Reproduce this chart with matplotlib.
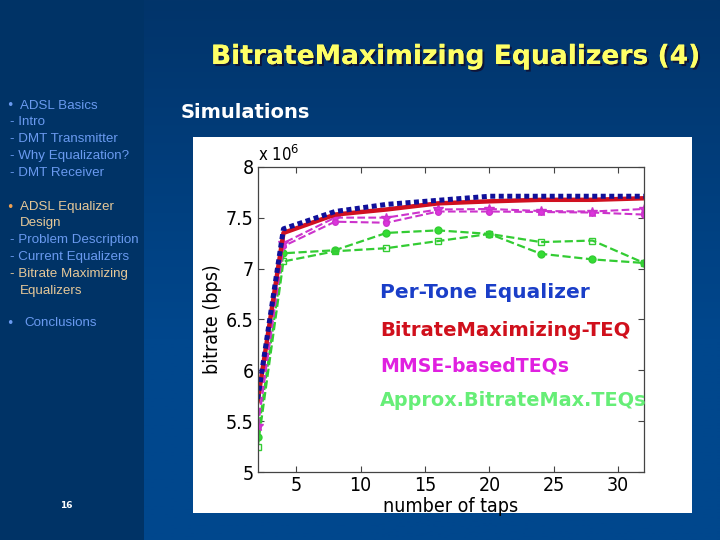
import numpy as np
import matplotlib
matplotlib.use("Agg")
import matplotlib.pyplot as plt
import matplotlib.patheffects as pe

# ---------------- data ----------------
taps = [2, 4, 8, 12, 16, 20, 24, 28, 32]
per_tone = [5.72, 7.39, 7.56, 7.63, 7.67, 7.71, 7.71, 7.71, 7.71]
bitrate_max_teq = [5.70, 7.35, 7.53, 7.58, 7.64, 7.66, 7.675, 7.675, 7.69]
mmse_a = [5.45, 7.25, 7.50, 7.50, 7.58, 7.585, 7.565, 7.56, 7.585]
mmse_b = [5.45, 7.22, 7.46, 7.45, 7.56, 7.56, 7.555, 7.55, 7.53]
approx_a = [5.35, 7.15, 7.18, 7.35, 7.375, 7.34, 7.145, 7.09, 7.055]
approx_b = [5.25, 7.07, 7.17, 7.20, 7.27, 7.34, 7.26, 7.275, 7.055]

yticks = [5, 5.5, 6, 6.5, 7, 7.5, 8]
ytick_labels = ["5", "5.5", "6", "6.5", "7", "7.5", "8"]
xticks = [5, 10, 15, 20, 25, 30]

legend_labels = ["Per-Tone Equalizer", "BitrateMaximizing-TEQ",
                 "MMSE-basedTEQs", "Approx.BitrateMax.TEQs"]

W, H = 720, 540
fig = plt.figure(figsize=(W / 100, H / 100), dpi=100)


def fx(x):
    return x / W


def fy(y):
    return 1 - y / H


# ---------------- background ----------------
bg = fig.add_axes([0, 0, 1, 1])
bg.set_xlim(0, W)
bg.set_ylim(H, 0)
bg.axis("off")
top = np.array([0x02, 0x34, 0x6a]) / 255
bot = np.array([0x00, 0x47, 0x8d]) / 255
t = np.clip(np.linspace(0, 1, 200) * 1.6, 0, 1)[:, None]
grad = (top[None, :] * (1 - t) + bot[None, :] * t)[:, None, :]
bg.imshow(grad, extent=[0, W, H, 0], aspect="auto", zorder=0)
bg.add_patch(plt.Rectangle((0, 0), 144, H, color="#003366", zorder=1, lw=0))
bg.add_patch(plt.Rectangle((193, 137), 499, 376, color="white", zorder=1, lw=0))

fig.canvas.draw()
renderer = fig.canvas.get_renderer()


def fit(txt, width_px):
    bb = txt.get_window_extent(renderer=renderer)
    txt.set_fontsize(txt.get_fontsize() * width_px / bb.width)


title = fig.text(fx(700), fy(57), "BitrateMaximizing Equalizers (4)",
                 ha="right", va="center", color="#ffff66", fontsize=20,
                 fontweight="bold", family="DejaVu Sans",
                 path_effects=[pe.withSimplePatchShadow(offset=(1.5, -1.5),
                                                         shadow_rgbFace="#111133",
                                                         alpha=0.9), pe.Normal()])
fit(title, 490)

sim = fig.text(fx(181), fy(113), "Simulations", ha="left", va="center",
               color="white", fontsize=14, fontweight="bold", family="DejaVu Sans")
fit(sim, 130)

# sidebar
blue_txt = "#6a9af0"
tan_txt = "#e6c898"
side = [
    (106, 20, "ADSL Basics", blue_txt, blue_txt),
    (122, 10, "- Intro", blue_txt, None),
    (139, 10, "- DMT Transmitter", blue_txt, None),
    (156, 10, "- Why Equalization?", blue_txt, None),
    (173, 10, "- DMT Receiver", blue_txt, None),
    (207, 20, "ADSL Equalizer", tan_txt, "#f0a050"),
    (223, 20, "Design", tan_txt, None),
    (240, 10, "- Problem Description", blue_txt, None),
    (257, 10, "- Current Equalizers", blue_txt, None),
    (274, 10, "- Bitrate Maximizing", tan_txt, None),
    (291, 20, "Equalizers", tan_txt, None),
    (323, 24, "Conclusions", blue_txt, blue_txt),
]
for y, x, s, c, bullet in side:
    fig.text(fx(x), fy(y), s, ha="left", va="center", color=c,
             fontsize=9.6, family="Liberation Sans")
    if bullet:
        fig.text(fx(6), fy(y), "\u2022", ha="left", va="center", color=bullet,
                 fontsize=9, family="DejaVu Sans")
fig.text(fx(66), fy(506), "16", ha="center", va="center", color="white",
         fontsize=6.5, fontweight="bold", family="DejaVu Sans")

# ---------------- chart ----------------
ax = fig.add_axes([fx(257.7), fy(472.3), fx(644 - 257.7), (472.3 - 166.7) / H])
ax.set_facecolor("white")
ax.plot(taps, approx_a, color="#33cc33", ls="--", lw=1.6, marker="o", ms=5,
        mfc="#33dd33", mec="#33cc33")
ax.plot(taps, approx_b, color="#33cc33", ls="--", lw=1.6, marker="s", ms=4,
        mfc="none", mec="#33cc33")
ax.plot(taps, mmse_a, color="#cc33cc", ls="--", lw=1.5, marker="*", ms=7,
        mfc="#dd33dd", mec="#cc33cc")
ax.plot(taps, mmse_b, color="#cc33cc", ls="--", lw=1.5, marker="o", ms=4,
        mfc="#dd33dd", mec="#cc33cc")
ax.plot(taps, bitrate_max_teq, color="#d01020", ls="-", lw=3.2)
ax.plot(taps, per_tone, color="#10109a", ls=(0, (1, 0.7)), lw=3.6)

ax.set_xlim(2, 32)
ax.set_ylim(5, 8)
ax.set_xticks(xticks)
ax.set_yticks(yticks)
ax.set_yticklabels(ytick_labels)
tfam = "DejaVu Sans"
tstretch = "condensed"
tsize = 14
for lab in ax.get_xticklabels() + ax.get_yticklabels():
    lab.set_fontfamily(tfam)
    lab.set_fontstretch(tstretch)
    lab.set_fontsize(tsize)
ax.tick_params(direction="in", top=True, right=True, length=4, color="#444444",
               width=0.8, pad=3)
for sp in ax.spines.values():
    sp.set_color("#444444")
    sp.set_linewidth(0.9)
ax.set_xlabel("number of taps", fontsize=14, family=tfam, fontstretch=tstretch)
ax.xaxis.set_label_coords(0.5, (472.3 - 506) / 305.6)
ax.xaxis.label.set_va("center")
ax.set_ylabel("bitrate (bps)", fontsize=14, family=tfam, fontstretch=tstretch)
ax.yaxis.set_label_coords((213 - 257.7) / 386.3, 0.5)
ax.yaxis.label.set_va("center")
ax.text(0.0, 1.005, r"x 10$^{6}$", transform=ax.transAxes, ha="left", va="bottom",
        fontsize=12, family=tfam, fontstretch=tstretch)

leg_colors = ["#1a3ec8", "#d0101c", "#e020e0", "#66ee77"]
leg_y = [293, 330, 366, 401]
leg_w = [209, 252, 189, 267]
for s, c, y, w in zip(legend_labels, leg_colors, leg_y, leg_w):
    tx = fig.text(fx(380), fy(y), s, ha="left", va="center", color=c,
                  fontsize=14, fontweight="bold", family="DejaVu Sans")
    fit(tx, w)

fig.savefig("out.png", dpi=100)
